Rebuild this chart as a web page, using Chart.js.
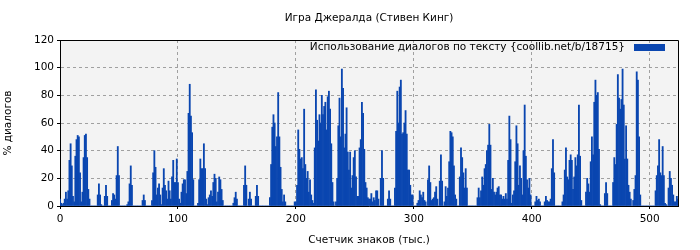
<!DOCTYPE html>
<html>
<head>
<meta charset="utf-8">
<script src="https://cdn.jsdelivr.net/npm/chart.js@4.4.1/dist/chart.umd.min.js"></script>
<style>
  html, body { margin: 0; padding: 0; background: #fff; }
  #wrap { width: 700px; height: 250px; }
</style>
</head>
<body>
<div id="wrap"><canvas id="dialogChart" width="700" height="250"></canvas></div>
<script>
var chartTitle = 'Игра Джералда (Стивен Кинг)';
var seriesLabel = 'Использование диалогов по тексту {coollib.net/b/18715}';
var xTitle = 'Счетчик знаков (тыс.)';
var yTitle = '% диалогов';

// % of dialogue per thousand characters of text (index = thousands of chars)
var dialogPct = [
    5, 2, 1, 2, 5, 10, 5, 11, 33, 45,
    29, 7, 3, 36, 48, 51, 50, 24, 3, 10,
    35, 51, 52, 35, 12, 5, 0, 0, 0, 0,
    0, 0, 8, 16, 8, 1, 0, 0, 7, 15,
    7, 0, 0, 0, 4, 9, 8, 5, 22, 43,
    22, 0, 0, 0, 0, 0, 0, 1, 3, 16,
    29, 15, 0, 0, 0, 0, 0, 0, 0, 0,
    4, 8, 4, 0, 0, 0, 0, 0, 4, 24,
    40, 28, 8, 13, 16, 8, 1, 13, 27, 15,
    11, 5, 18, 11, 5, 21, 33, 17, 17, 34,
    17, 5, 2, 10, 16, 19, 19, 9, 25, 67,
    88, 65, 53, 19, 0, 0, 0, 2, 19, 34,
    27, 27, 45, 27, 5, 1, 6, 8, 11, 7,
    17, 23, 20, 3, 10, 21, 19, 12, 4, 0,
    0, 0, 0, 0, 0, 0, 0, 2, 6, 10,
    5, 0, 0, 0, 0, 0, 15, 29, 15, 0,
    5, 10, 5, 0, 0, 0, 7, 15, 7, 0,
    0, 0, 0, 0, 0, 0, 0, 0, 6, 30,
    57, 66, 60, 43, 50, 82, 50, 28, 12, 3,
    8, 3, 0, 0, 0, 0, 0, 0, 0, 3,
    3, 15, 55, 41, 34, 35, 27, 70, 30, 20,
    25, 10, 19, 8, 4, 2, 42, 84, 62, 47,
    66, 60, 80, 66, 72, 75, 55, 79, 83, 70,
    45, 17, 3, 0, 3, 20, 58, 78, 50, 99,
    85, 42, 52, 71, 39, 26, 39, 13, 22, 35,
    40, 21, 7, 7, 42, 48, 75, 67, 41, 17,
    13, 6, 5, 5, 9, 3, 6, 4, 11, 11,
    5, 0, 20, 40, 20, 0, 0, 0, 5, 11,
    5, 0, 0, 0, 13, 54, 83, 60, 86, 91,
    52, 53, 60, 69, 52, 26, 26, 15, 8, 8,
    0, 0, 0, 2, 4, 11, 8, 6, 10, 4,
    3, 0, 19, 29, 17, 4, 5, 6, 10, 14,
    5, 0, 18, 37, 18, 0, 3, 14, 7, 13,
    32, 54, 53, 50, 29, 8, 5, 0, 0, 21,
    42, 35, 24, 13, 27, 13, 0, 0, 0, 0,
    0, 0, 0, 0, 6, 13, 6, 11, 21, 15,
    27, 30, 40, 44, 59, 44, 12, 20, 10, 8,
    10, 13, 14, 8, 8, 5, 7, 5, 9, 5,
    33, 65, 48, 2, 8, 11, 32, 58, 45, 15,
    29, 20, 8, 40, 73, 36, 19, 13, 20, 8,
    0, 0, 0, 3, 7, 4, 5, 3, 0, 0,
    0, 3, 7, 4, 3, 3, 5, 27, 48, 24,
    0, 0, 0, 0, 0, 0, 3, 8, 26, 42,
    21, 19, 33, 37, 33, 12, 21, 35, 29, 37,
    73, 36, 4, 0, 0, 0, 10, 20, 16, 10,
    32, 50, 37, 75, 91, 80, 82, 41, 1, 0,
    0, 0, 9, 17, 9, 0, 0, 0, 0, 17,
    35, 30, 59, 95, 78, 70, 77, 99, 73, 34,
    58, 34, 15, 10, 5, 0, 4, 12, 22, 97,
    91, 50, 8, 0, 0, 0, 0, 0, 0, 0,
    0, 0, 0, 0, 0, 11, 22, 29, 48, 24,
    22, 43, 22, 2, 1, 0, 13, 25, 20, 15,
    8, 3, 3, 7, 5
];

var xTicks = [0, 100, 200, 300, 400, 500];
var yTicks = [0, 20, 40, 60, 80, 100, 120];

var barColor = 'rgb(10, 70, 176)';
var font = { family: '"DejaVu Sans", sans-serif', size: 10.5 };

// plot background + frame on top/right + legend inside the plot area
var plotDecor = {
    id: 'plotDecor',
    beforeDraw: function(chart) {
        var a = chart.chartArea, ctx = chart.ctx;
        ctx.save();
        ctx.fillStyle = '#f3f3f3';
        ctx.fillRect(a.left, a.top, a.right - a.left, a.bottom - a.top);
        ctx.restore();
    },
    afterDraw: function(chart) {
        var a = chart.chartArea, ctx = chart.ctx;
        var ds = chart.data.datasets[0];
        ctx.save();
        ctx.strokeStyle = '#000';
        ctx.lineWidth = 1;
        ctx.beginPath();
        ctx.moveTo(Math.round(a.left) + 0.5, Math.round(a.top) + 0.5);
        ctx.lineTo(Math.round(a.right) + 0.5, Math.round(a.top) + 0.5);
        ctx.lineTo(Math.round(a.right) + 0.5, Math.round(a.bottom) + 0.5);
        ctx.stroke();

        var boxW = 31, boxH = 7;
        var boxRight = Math.round(a.right) - 13;
        var cy = a.top + 7.5;
        ctx.fillStyle = ds.backgroundColor;
        ctx.fillRect(boxRight - boxW, cy - boxH / 2, boxW, boxH);
        ctx.fillStyle = '#000';
        ctx.font = font.size + 'px ' + font.family;
        ctx.textAlign = 'right';
        ctx.textBaseline = 'middle';
        ctx.fillText(ds.label, boxRight - boxW - 9, cy);
        ctx.restore();
    }
};

var ctx = document.getElementById('dialogChart').getContext('2d');
new Chart(ctx, {
    type: 'bar',
    data: {
        datasets: [{
            label: seriesLabel,
            data: dialogPct.map(function(v, i) { return { x: i, y: v }; }),
            backgroundColor: barColor,
            borderWidth: 0,
            barPercentage: 1.0,
            categoryPercentage: 1.0
        }]
    },
    options: {
        responsive: false,
        animation: false,
        layout: { padding: { left: 0, right: 22, top: 0, bottom: 0 } },
        plugins: {
            legend: { display: false },
            tooltip: { enabled: false },
            title: {
                display: true,
                text: chartTitle,
                color: '#000',
                fullSize: false,
                font: { family: font.family, size: 10.5, weight: 'normal' },
                padding: { top: 11.7, bottom: 15.7 }
            }
        },
        scales: {
            x: {
                type: 'linear',
                min: 0,
                max: 524,
                offset: false,
                afterBuildTicks: function(scale) {
                    scale.ticks = xTicks.map(function(v) { return { value: v }; });
                },
                afterFit: function(scale) { scale.height = 44; },
                ticks: { color: '#000', font: font, padding: 4, maxRotation: 0 },
                grid: { offset: false, color: '#a0a0a0', tickColor: '#000', tickLength: 3, drawTicks: true },
                border: { display: true, color: '#000', width: 1, dash: [3, 3] },
                title: { display: true, text: xTitle, color: '#000', font: font, padding: { top: 0, bottom: 3 } }
            },
            y: {
                min: 0,
                max: 120,
                afterBuildTicks: function(scale) {
                    scale.ticks = yTicks.map(function(v) { return { value: v }; });
                },
                afterFit: function(scale) { scale.width = 60; },
                ticks: { color: '#000', font: font, padding: 3 },
                grid: { color: '#a0a0a0', tickColor: '#000', tickLength: 3, drawTicks: true },
                border: { display: true, color: '#000', width: 1, dash: [3, 3] },
                title: { display: true, text: yTitle, color: '#000', font: font, padding: { top: 2, bottom: 0 } }
            }
        }
    },
    plugins: [plotDecor]
});
</script>
</body>
</html>
